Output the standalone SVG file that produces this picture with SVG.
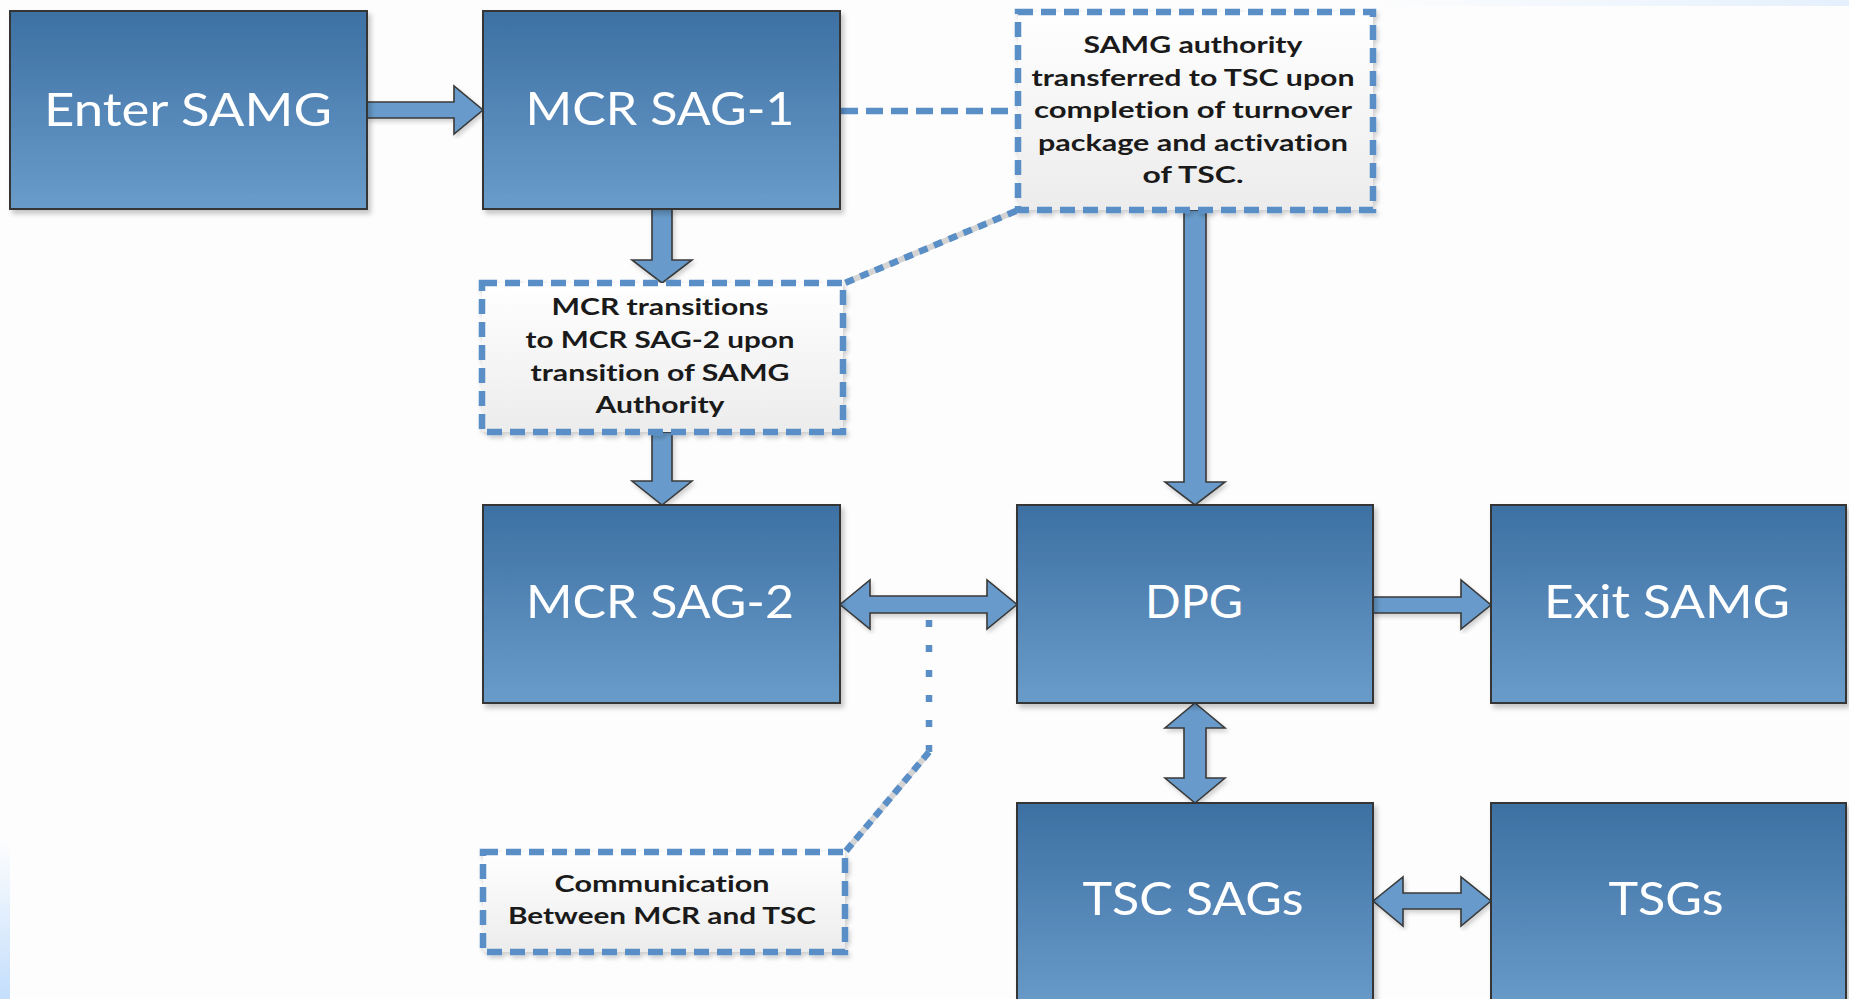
<svg xmlns="http://www.w3.org/2000/svg" width="1849" height="999" viewBox="0 0 1849 999">
  <defs>
    <linearGradient id="boxFill" x1="0" y1="0" x2="0" y2="1">
      <stop offset="0" stop-color="#3d70a3"/>
      <stop offset="1" stop-color="#6a9cca"/>
    </linearGradient>
    <linearGradient id="noteFill" x1="0" y1="0" x2="0" y2="1">
      <stop offset="0" stop-color="#ffffff"/>
      <stop offset="1" stop-color="#ececec"/>
    </linearGradient>
    <linearGradient id="edgeLeft" x1="0" y1="0" x2="0" y2="1">
      <stop offset="0" stop-color="#fdfdfd"/>
      <stop offset="1" stop-color="#c4defc"/>
    </linearGradient>
    <linearGradient id="edgeTop" x1="0" y1="0" x2="1" y2="0">
      <stop offset="0" stop-color="#fdfdfd"/>
      <stop offset="1" stop-color="#e4f0fd"/>
    </linearGradient>
    <filter id="shadow" x="-5%" y="-5%" width="115%" height="115%">
      <feDropShadow dx="3" dy="4" stdDeviation="2.5" flood-color="#000" flood-opacity="0.22"/>
    </filter>
    <filter id="softShadow" x="-5%" y="-5%" width="115%" height="115%">
      <feDropShadow dx="2" dy="3" stdDeviation="2" flood-color="#000" flood-opacity="0.18"/>
    </filter>
  </defs>
  <style>
    .box { fill: url(#boxFill); stroke: #353535; stroke-width: 2; filter: url(#shadow); }
    .label { font-family: Lato, "Open Sans", "Liberation Sans", sans-serif; font-size: 46px; fill: #ffffff; text-anchor: middle; font-variant-ligatures: none; }
    .note { fill: url(#noteFill); stroke: #5a8ec6; stroke-width: 6.5; stroke-dasharray: 15 8; filter: url(#softShadow); }
    .noteText { font-family: Lato, "Open Sans", "Liberation Sans", sans-serif; font-weight: bold; font-size: 22.5px; fill: #1a1a1a; text-anchor: middle; font-variant-ligatures: none; }
    .arrow { fill: #679bcb; stroke: #3a3a3a; stroke-width: 1.6; stroke-linejoin: miter; filter: url(#softShadow); }
    .link { fill: none; stroke: #5a8ec6; stroke-width: 6.5; }
    .linkShade { fill: none; stroke: #d4d4d4; stroke-width: 6; }
  </style>

  <!-- page background -->
  <rect x="0" y="0" width="1849" height="999" fill="#fdfdfd"/>
  <rect x="0" y="840" width="10" height="159" fill="url(#edgeLeft)"/>
  <rect x="1370" y="0" width="479" height="6" fill="url(#edgeTop)"/>

  <!-- connectors -->
  <g id="connectors">
    <line class="link" x1="841" y1="111" x2="1016" y2="111" stroke-dasharray="17 8"/>
    <line class="linkShade" x1="1016" y1="211" x2="845" y2="283"/>
    <line class="link" x1="1016" y1="211" x2="845" y2="283" stroke-dasharray="9 7"/>
    <line class="link" x1="929" y1="620" x2="929" y2="752" stroke-dasharray="7 18"/>
    <line class="linkShade" x1="929" y1="752" x2="846" y2="851"/>
    <line class="link" x1="929" y1="752" x2="846" y2="851" stroke-dasharray="9 6"/>

    <polygon class="arrow" points="367,102 454,102 454,86 483,110 454,134 454,118 367,118"/>
    <polygon class="arrow" points="652,209 672,209 672,260 692,260 662,283 632,260 652,260"/>
    <polygon class="arrow" points="652,432 672,432 672,481 692,481 662,505 632,481 652,481"/>
    <polygon class="arrow" points="1184,210 1206,210 1206,482 1225,482 1195,505 1165,482 1184,482"/>
    <polygon class="arrow" points="840,604.5 870,580 870,596 987,596 987,580 1017,604.5 987,629 987,613 870,613 870,629"/>
    <polygon class="arrow" points="1373,597 1461,597 1461,580 1491,605 1461,629 1461,613 1373,613"/>
    <polygon class="arrow" points="1195,703 1225,728 1206,728 1206,778 1225,778 1195,803 1165,778 1184,778 1184,728 1165,728"/>
    <polygon class="arrow" points="1373,901 1403,877 1403,893 1461,893 1461,877 1491,901 1461,926 1461,909 1403,909 1403,926"/>
  </g>

  <g id="enter-samg">
    <rect class="box" x="10" y="11" width="357" height="198"/>
    <text class="label" x="188" y="126" textLength="288" lengthAdjust="spacingAndGlyphs">Enter SAMG</text>
  </g>

  <g id="mcr-sag-1">
    <rect class="box" x="483" y="11" width="357" height="198"/>
    <text class="label" x="660" y="125" textLength="269" lengthAdjust="spacingAndGlyphs">MCR SAG-1</text>
  </g>

  <g id="note-authority">
    <rect class="note" x="1018" y="12" width="355" height="198"/>
    <text class="noteText" x="1193" y="53" textLength="219" lengthAdjust="spacingAndGlyphs">SAMG authority</text>
    <text class="noteText" x="1193" y="85.5" textLength="323" lengthAdjust="spacingAndGlyphs">transferred to TSC upon</text>
    <text class="noteText" x="1193" y="118" textLength="318" lengthAdjust="spacingAndGlyphs">completion of turnover</text>
    <text class="noteText" x="1193" y="150.5" textLength="310" lengthAdjust="spacingAndGlyphs">package and activation</text>
    <text class="noteText" x="1193" y="183" textLength="101" lengthAdjust="spacingAndGlyphs">of TSC.</text>
  </g>

  <g id="note-transition">
    <rect class="note" x="482" y="283" width="361" height="149"/>
    <text class="noteText" x="660" y="315" textLength="217" lengthAdjust="spacingAndGlyphs">MCR transitions</text>
    <text class="noteText" x="660" y="348" textLength="269" lengthAdjust="spacingAndGlyphs">to MCR SAG-2 upon</text>
    <text class="noteText" x="660" y="381" textLength="259" lengthAdjust="spacingAndGlyphs">transition of SAMG</text>
    <text class="noteText" x="660" y="413" textLength="129" lengthAdjust="spacingAndGlyphs">Authority</text>
  </g>

  <g id="mcr-sag-2">
    <rect class="box" x="483" y="505" width="357" height="198"/>
    <text class="label" x="660" y="618" textLength="268" lengthAdjust="spacingAndGlyphs">MCR SAG-2</text>
  </g>

  <g id="dpg">
    <rect class="box" x="1017" y="505" width="356" height="198"/>
    <text class="label" x="1194" y="618" textLength="98" lengthAdjust="spacingAndGlyphs">DPG</text>
  </g>

  <g id="exit-samg">
    <rect class="box" x="1491" y="505" width="355" height="198"/>
    <text class="label" x="1667" y="618" textLength="246" lengthAdjust="spacingAndGlyphs">Exit SAMG</text>
  </g>

  <g id="note-communication">
    <rect class="note" x="483" y="852" width="362" height="100"/>
    <text class="noteText" x="662" y="892" textLength="215" lengthAdjust="spacingAndGlyphs">Communication</text>
    <text class="noteText" x="662" y="924" textLength="308" lengthAdjust="spacingAndGlyphs">Between MCR and TSC</text>
  </g>

  <g id="tsc-sags">
    <rect class="box" x="1017" y="803" width="356" height="210"/>
    <text class="label" x="1193" y="915" textLength="221" lengthAdjust="spacingAndGlyphs">TSC SAGs</text>
  </g>

  <g id="tsgs">
    <rect class="box" x="1491" y="803" width="355" height="210"/>
    <text class="label" x="1666" y="915" textLength="115" lengthAdjust="spacingAndGlyphs">TSGs</text>
  </g>
</svg>
